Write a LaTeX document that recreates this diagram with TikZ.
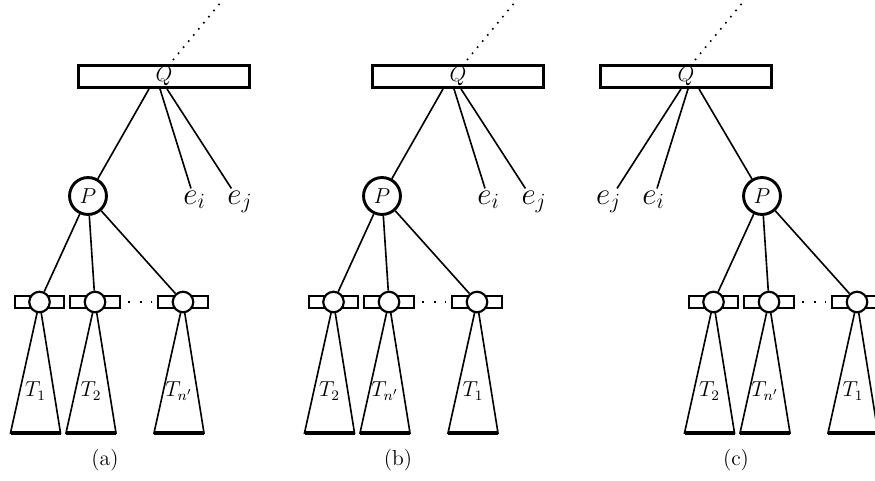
\documentclass[tikz,border=0pt]{standalone}
\usepackage{tikz}
\usetikzlibrary{positioning,calc,backgrounds}

\begin{document}
\begin{tikzpicture}[x=0.195mm, y=-0.195mm, font=\large,
		qbox/.style={draw, line width=1.6pt, minimum width=33.2mm, minimum height=4.3mm, inner sep=0pt},
		pnode/.style={draw, circle, line width=1.6pt, minimum size=7.2mm, inner sep=0pt, fill=white},
		bar/.style={draw, line width=1.2pt, minimum width=9.6mm, minimum height=2.3mm, inner sep=0pt, fill=white},
		knot/.style={draw, circle, line width=1.2pt, minimum size=4mm, inner sep=0pt, fill=white},
		leaf/.style={font=\LARGE, inner sep=1pt, anchor=base},
		edge/.style={line width=0.9pt},
		uplink/.style={line width=0.9pt, dash pattern=on 0.9pt off 3.5pt},
		gap/.style={line width=1.3pt, dash pattern=on 1.3pt off 5.3pt},
		rim/.style={line width=2pt}]
		\useasboundingbox (0,0) rectangle (875,481);
		
		% (a)
		\node[qbox] (Qa) at (164,76.5) {$Q$};
		\coordinate (ua) at (221,2);
		\draw[uplink] ($(Qa.north)+(9,-4)$) -- (ua);
		\node[pnode] (Pa) at (88,196) {$P$};
		\node[leaf] (eia) at (194.5,204) {$e_i$};
		\node[leaf] (eja) at (240,204) {$e_j$};
		\draw[edge] ($(Qa.south)+(-15,0)$) -- (Pa);
		\draw[edge] ($(Qa.south)+(-4,0)$) -- (eia);
		\draw[edge] ($(Qa.south)+(3,0)$) -- (eja);
		\foreach \k/\x/\t in {1/39.5/T_1, 2/95/T_2, 3/183/T_{n'}}{
			\node[bar] (ba\k) at (\x,302) {};
			\node[knot] (a\k) at (\x,302) {};
			\node (ta\k) at (\x-4,391) {$\t$};
			\draw[edge] (Pa) -- (a\k);
			\begin{scope}[on background layer]
				\draw[edge] (a\k.center) -- ++(-29,131) -- ++(50,0) -- cycle;
				\draw[rim] (a\k.center) ++(-29,131) -- ++(50,0);
			\end{scope}
		}
		\draw[gap] ($(ba2.east)+(7,0)$) -- ($(ba3.west)+(-5,0)$);
		\node (capa) at (105,460) {(a)};
		
		% (b)
		\begin{scope}[shift={(294,0)}]
			\node[qbox] (Qb) at (164,76.5) {$Q$};
			\coordinate (ub) at (221,2);
			\draw[uplink] ($(Qb.north)+(9,-4)$) -- (ub);
			\node[pnode] (Pb) at (88,196) {$P$};
			\node[leaf] (eib) at (194.5,204) {$e_i$};
			\node[leaf] (ejb) at (240,204) {$e_j$};
			\draw[edge] ($(Qb.south)+(-15,0)$) -- (Pb);
			\draw[edge] ($(Qb.south)+(-4,0)$) -- (eib);
			\draw[edge] ($(Qb.south)+(3,0)$) -- (ejb);
			\foreach \k/\x/\t in {1/39.5/T_2, 2/95/T_{n'}, 3/183/T_1}{
				\node[bar] (bb\k) at (\x,302) {};
				\node[knot] (b\k) at (\x,302) {};
				\node (tb\k) at (\x-4,391) {$\t$};
				\draw[edge] (Pb) -- (b\k);
				\begin{scope}[on background layer]
					\draw[edge] (b\k.center) -- ++(-29,131) -- ++(50,0) -- cycle;
					\draw[rim] (b\k.center) ++(-29,131) -- ++(50,0);
				\end{scope}
			}
			\draw[gap] ($(bb2.east)+(7,0)$) -- ($(bb3.west)+(-5,0)$);
			\node (capb) at (104,460) {(b)};
		\end{scope}
		
		% (c)
		\begin{scope}[shift={(674,0)}]
			\node[qbox] (Qc) at (12,76.5) {$Q$};
			\coordinate (uc) at (69,2);
			\draw[uplink] ($(Qc.north)+(9,-4)$) -- (uc);
			\node[pnode] (Pc) at (88,196) {$P$};
			\node[leaf] (eic) at (-20.5,204) {$e_i$};
			\node[leaf] (ejc) at (-65.5,204) {$e_j$};
			\draw[edge] ($(Qc.south)+(13,0)$) -- (Pc);
			\draw[edge] ($(Qc.south)+(2,0)$) -- (eic);
			\draw[edge] ($(Qc.south)+(-5,0)$) -- (ejc);
			\foreach \k/\x/\t in {1/39.5/T_2, 2/95/T_{n'}, 3/183/T_1}{
				\node[bar] (bc\k) at (\x,302) {};
				\node[knot] (c\k) at (\x,302) {};
				\node (tc\k) at (\x-4,391) {$\t$};
				\draw[edge] (Pc) -- (c\k);
				\begin{scope}[on background layer]
					\draw[edge] (c\k.center) -- ++(-29,131) -- ++(50,0) -- cycle;
					\draw[rim] (c\k.center) ++(-29,131) -- ++(50,0);
				\end{scope}
			}
			\draw[gap] ($(bc2.east)+(7,0)$) -- ($(bc3.west)+(-5,0)$);
			\node (capc) at (62,460) {(c)};
		\end{scope}
	\end{tikzpicture}
\end{document}
